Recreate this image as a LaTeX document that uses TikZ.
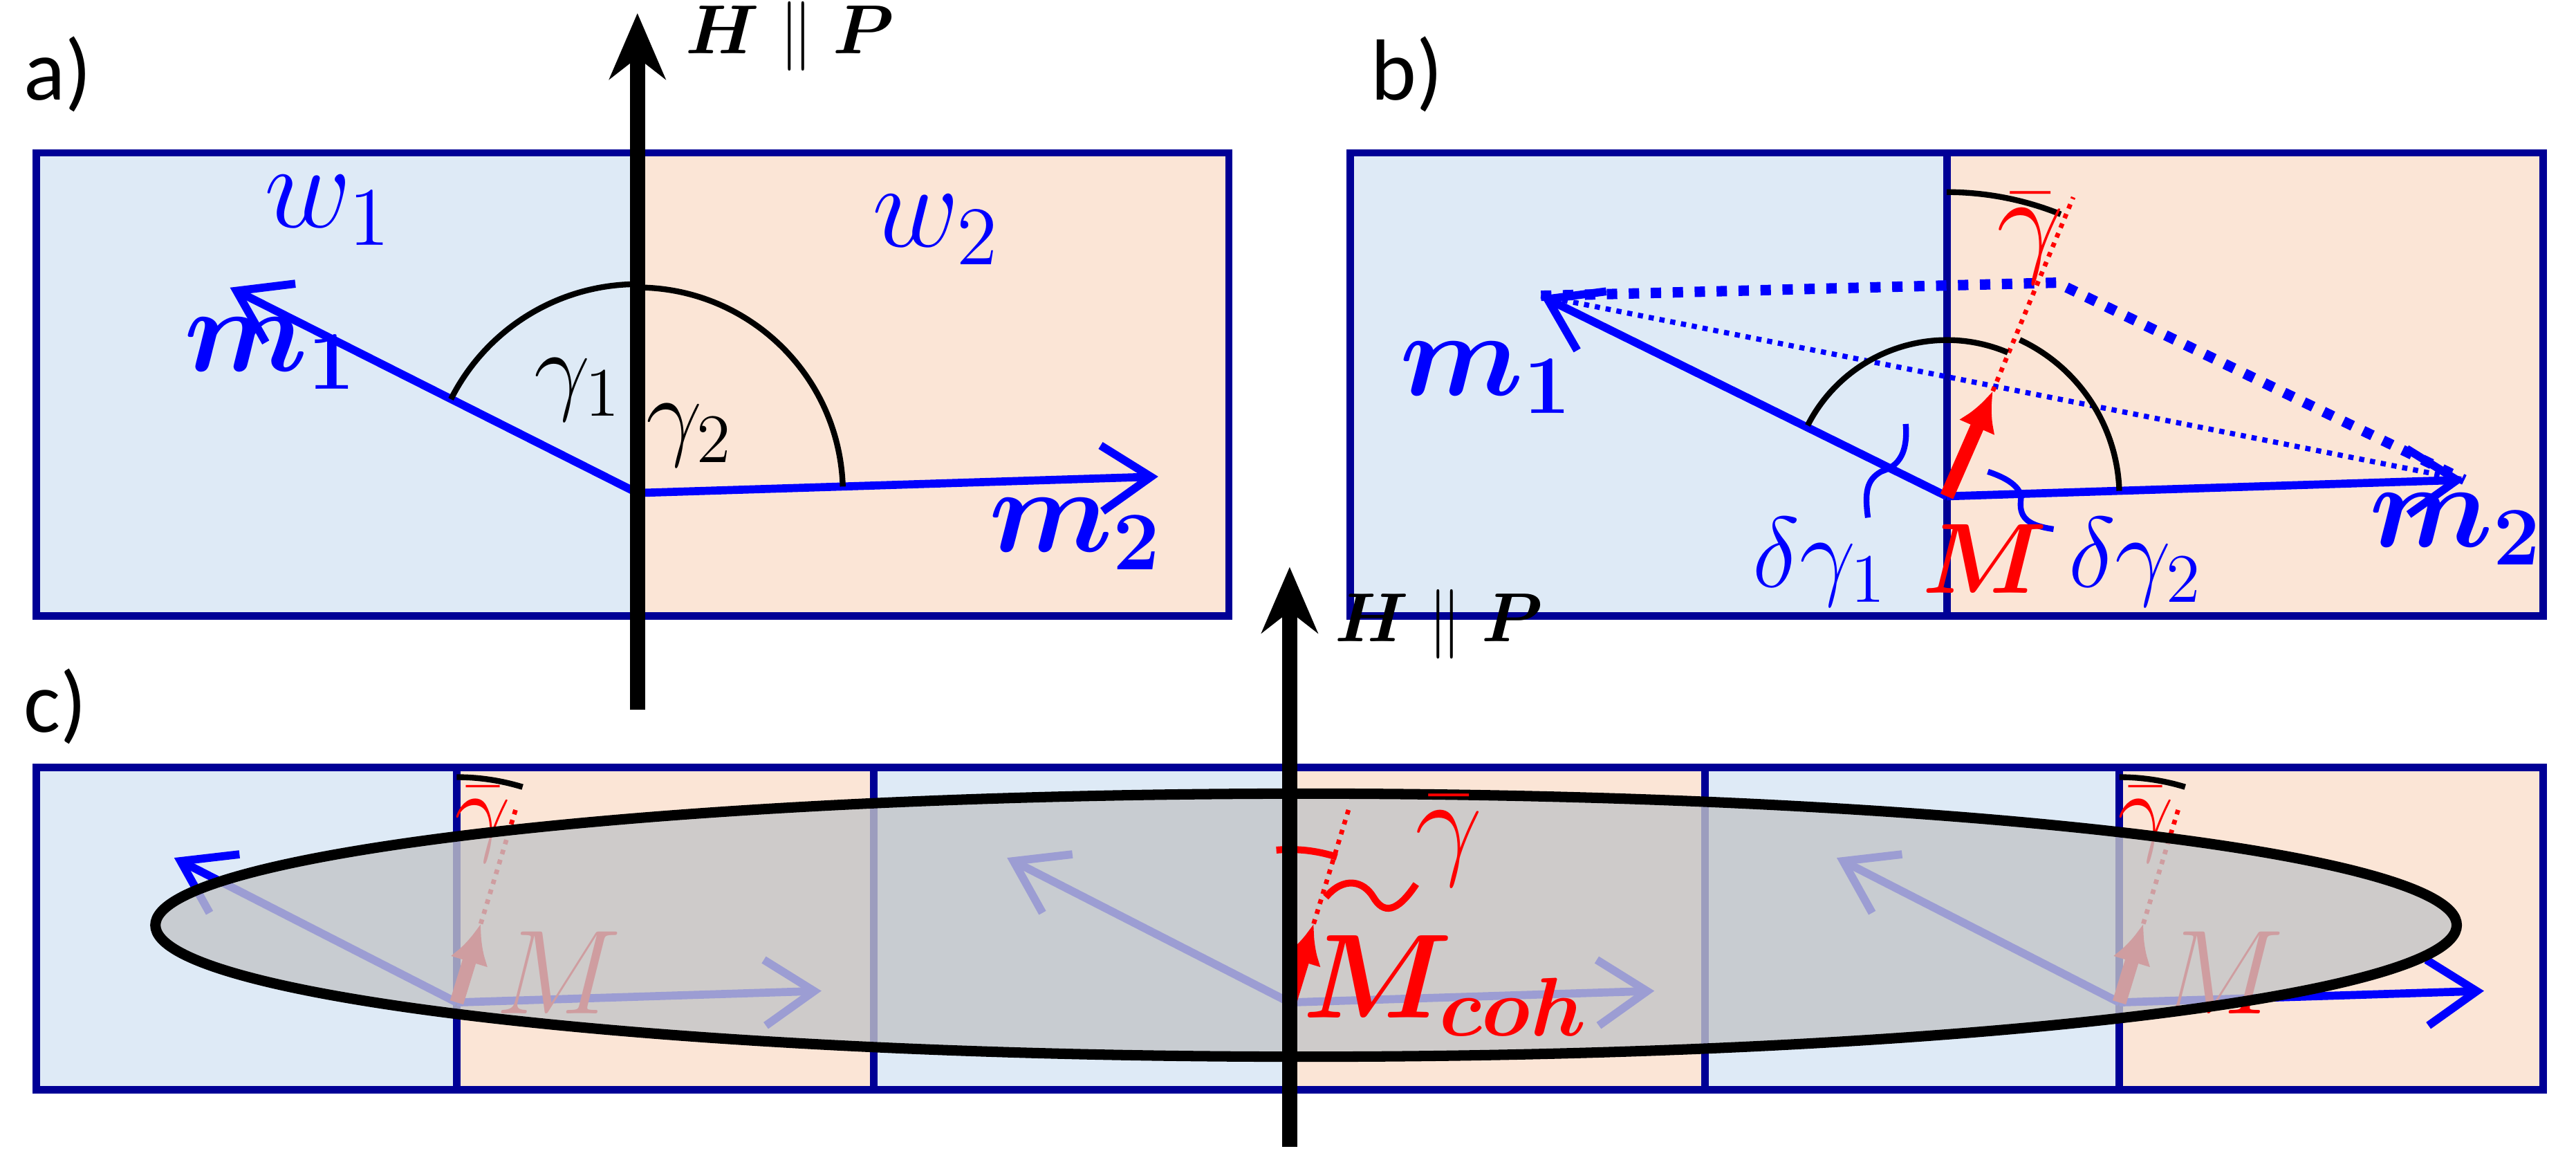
\documentclass[tikz,border=0pt]{standalone}
\usepackage{amsmath,bm}
\usepackage{fontspec}
\newfontfamily\labfont{Carlito}
\usetikzlibrary{arrows.meta, calc}
\definecolor{navy}{RGB}{0,0,150}
\definecolor{dwblue}{RGB}{222,234,246}
\definecolor{dwpeach}{RGB}{251,229,214}
\definecolor{mblue}{RGB}{0,0,255}
\definecolor{mred}{RGB}{255,0,0}
\tikzset{
x=0.01cm, y=-0.01cm, % one unit is one pixel of the reference, y goes down
box/.style={draw=navy, line width=1.3pt}, % domain frames
vec/.style={mblue, line width=1.4pt, -{Straight Barb[length=3mm,width=4mm]}}, % sublattice moments
mag/.style={mred, line width=2.4pt, -{Latex[length=2.4mm,width=2.4mm]}}, % net moment
field/.style={black, line width=2.6pt, -{Stealth[length=4mm,width=3.4mm]}}, % applied field
ang/.style={black, line width=1pt}, % angle arcs
panel/.style={font=\labfont\fontsize{15}{17}\selectfont, anchor=west},
}
\begin{document}
\begin{tikzpicture}
\useasboundingbox (0,0) rectangle (1568,711);
% a) two domains
\fill[dwblue] (22,93) rectangle (385,375);
\fill[dwpeach] (385,93) rectangle (748,375);
\draw[box] (22,93) rectangle (748,375);
\node[panel] (la) at (2,45) {a)};
\coordinate (Oa) at (388,300);
\coordinate (m1a) at (140,175);
\coordinate (m2a) at (705,290);
\draw[vec] (Oa) -- (m1a);
\draw[vec] (Oa) -- (m2a);
\draw[ang] (Oa) ++(153.3:1.27cm) arc[start angle=153.3, end angle=90, radius=1.27cm];
\draw[ang] (Oa) ++(90:1.25cm) arc[start angle=90, end angle=1.8, radius=1.25cm];
\draw[field] (388,432) coordinate (Ha0) -- (388,8) coordinate (Ha1);
\node[font=\large, anchor=west] (Hla) at (405,22) {$\bm{H}\parallel\bm{P}$};
\node[mblue, font=\huge] (w1) at (200,128) {$w_1$};
\node[mblue, font=\huge] (w2) at (570,140) {$w_2$};
\node[mblue, font=\huge] (lm1a) at (165,215) {$\bm{m_1}$};
\node[mblue, font=\huge] (lm2a) at (655,325) {$\bm{m_2}$};
\node[font=\LARGE] (g1) at (352,237) {$\gamma_1$};
\node[font=\LARGE] (g2) at (420,265) {$\gamma_2$};
% b) canting of the two moments
\fill[dwblue] (822,93) rectangle (1185,375);
\fill[dwpeach] (1185,93) rectangle (1548,375);
\draw[box] (822,93) rectangle (1548,375);
\draw[box] (1185,93) -- (1185,375);
\node[panel] (lb) at (822,45) {b)};
\coordinate (Ob) at (1185,302);
\coordinate (m1b) at (938,180);
\coordinate (m2b) at (1500,292);
\coordinate (tb) at (1252,172);
\coordinate (Mb) at (1213,238);
\coordinate (rb) at (1262,120);
\draw[mblue, line width=1.8pt, dotted] (m1b) -- (tb) -- (m2b);
\draw[mblue, line width=0.9pt, densely dotted] (m1b) -- (m2b);
\draw[vec] (Ob) -- (m1b);
\draw[vec] (Ob) -- (m2b);
\draw[mred, densely dotted, line width=0.8pt] (Mb) -- (rb);
\draw[ang] (Ob) ++(153:0.95cm) arc[start angle=153, end angle=67, radius=0.95cm];
\draw[ang] (Ob) ++(65:1.05cm) arc[start angle=65, end angle=1.8, radius=1.05cm];
\draw[ang] (Ob) ++(90:1.85cm) arc[start angle=90, end angle=68, radius=1.85cm];
\draw[mag] (Ob) -- (Mb);
\draw[mblue, line width=1pt] (1160,258) .. controls (1162,282) and (1150,285) .. (1145,287) .. controls (1136,292) and (1135,300) .. (1137,315);
\draw[mblue, line width=1pt] (1210,287) .. controls (1228,293) and (1231,300) .. (1230,305) .. controls (1229,316) and (1236,320) .. (1250,322);
\node[mred, font=\huge] (gbb) at (1236,145) {$\bar\gamma$};
\node[mblue, font=\huge] (lm1b) at (905,230) {$\bm{m_1}$};
\node[mblue, font=\huge] (lm2b) at (1495,322) {$\bm{m_2}$};
\node[mred, font=\LARGE] (lMb) at (1208,340) {$\bm{M}$};
\node[mblue, font=\LARGE] (dg1) at (1108,342) {$\delta\gamma_1$};
\node[mblue, font=\LARGE] (dg2) at (1300,342) {$\delta\gamma_2$};
% c) chain of domains under the coherence ellipse
\fill[dwblue] (22,467) rectangle (278,663);
\fill[dwpeach] (278,467) rectangle (532,663);
\fill[dwblue] (532,467) rectangle (785,663);
\fill[dwpeach] (785,467) rectangle (1038,663);
\fill[dwblue] (1038,467) rectangle (1290,663);
\fill[dwpeach] (1290,467) rectangle (1548,663);
\draw[box] (22,467) rectangle (1548,663);
\foreach \xd in {278,532,1038,1290} \draw[box] (\xd,467) -- (\xd,663);
\node[panel] (lc) at (2,430) {c)};
\foreach \xo/\nm in {278/L,785/C,1290/R} {
  \coordinate (O\nm) at (\xo,610);
  \coordinate (p\nm) at (\xo-172,522);
  \coordinate (q\nm) at (\xo+222,603);
  \draw[vec] (O\nm) -- (p\nm);
  \draw[vec] (O\nm) -- (q\nm);
}
\foreach \nm in {L,R} {
  \draw[mred, densely dotted, line width=0.8pt] (O\nm) ++(73:0.5cm) -- ++(73:0.75cm);
  \draw[ang] (O\nm) ++(90:1.37cm) arc[start angle=90, end angle=73, radius=1.37cm];
  \draw[mag] (O\nm) -- ++(73:0.5cm);
  \node[mred, font=\LARGE] (gb\nm) at ($(O\nm)+(16,-108)$) {$\bar\gamma$};
  \node[mred, font=\huge] (M\nm) at ($(O\nm)+(62,-18)$) {$M$};
}
\fill[fill={rgb,255:red,195;green,197;blue,200}, fill opacity=0.8] (795,563) ellipse[x radius=7cm, y radius=0.8cm];
\draw[black, line width=1.8pt] (795,563) coordinate (E) ellipse[x radius=7cm, y radius=0.8cm];
% coherent moment on top
\draw[mred, densely dotted, line width=0.8pt] (OC) ++(73:0.5cm) -- ++(73:0.75cm);
\draw[mag] (OC) -- ++(73:0.5cm);
\draw[mred, line width=1.2pt] (OC) ++(95:0.93cm) arc[start angle=95, end angle=72, radius=0.93cm];
\draw[mred, line width=1.2pt] (807,546) .. controls (818,533) and (830,536) .. (836,546) .. controls (842,556) and (850,556) .. (862,538);
\draw[field] (785,698) coordinate (Hc0) -- (785,345) coordinate (Hc1);
\node[font=\large, anchor=west] (Hlc) at (800,380) {$\bm{H}\parallel\bm{P}$};
\node[mred, font=\huge] (gbC) at (882,512) {$\bar\gamma$};
\node[mred, font=\huge] (Mcoh) at (880,600) {$\bm{M_{coh}}$};
\end{tikzpicture}
\end{document}
